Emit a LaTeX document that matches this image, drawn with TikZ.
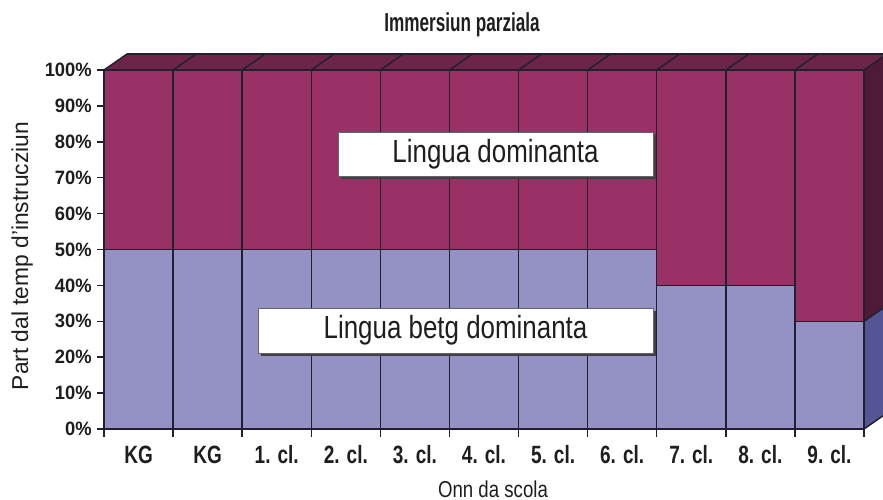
\documentclass[tikz,border=0pt]{standalone}
\usepackage{fontspec}
\setmainfont{Liberation Sans}
\usepackage{graphicx}
\definecolor{marF}{HTML}{9A3166}
\definecolor{marT}{HTML}{6E2448}
\definecolor{marS}{HTML}{4E1A35}
\definecolor{lavF}{HTML}{9492C5}
\definecolor{lavS}{HTML}{535594}
\definecolor{edge}{HTML}{20202E}
\definecolor{txt}{HTML}{1E1E1E}
\tikzset{
  edgeline/.style={draw=edge,line width=1.1pt},
  ticklab/.style={anchor=east,inner sep=0pt,text=txt,font=\fontsize{14.5}{15}\selectfont\bfseries},
  xlab/.style={anchor=base,inner sep=0pt,text=txt,font=\fontsize{18.75}{20}\selectfont\bfseries},
  axtitle/.style={anchor=base,inner sep=0pt,text=txt,font=\fontsize{17.25}{19}\selectfont},
  legbox/.style={draw=edge!70,line width=0.6pt,fill=white,inner sep=0pt,text=txt,font=\fontsize{24}{26}\selectfont},
  legshadow/.style={fill=black!75}
}
\begin{document}
\begin{tikzpicture}[x=0.75pt,y=-0.75pt]
\useasboundingbox (0,0) rectangle (883,500);
\clip (0,0) rectangle (883,500);
% bars
\foreach \i/\v in {0/50,1/50,2/50,3/50,4/50,5/50,6/50,7/50,8/40,9/40,10/30}{
  \pgfmathsetmacro\xl{104+69.09*\i}
  \pgfmathsetmacro\xr{104+69.09*(\i+1)}
  \pgfmathsetmacro\yv{429-3.59*\v}
  \fill[lavF] (\xl,\yv) rectangle (\xr,429);
  \fill[marF] (\xl,70) rectangle (\xr,\yv);
  \draw[edgeline] (\xl,\yv) -- (\xr,\yv);
}
% top face
\fill[marT] (104,70) -- (864,70) -- (887,54) -- (127,54) -- cycle;
% right face
\fill[marS] (864,70) -- (887,54) -- (887,305.3) -- (864,321.3) -- cycle;
\fill[lavS] (864,321.3) -- (887,305.3) -- (887,413) -- (864,429) -- cycle;
\draw[edgeline] (864,321.3) -- (887,305.3);
\draw[edgeline] (127,54) -- (887,54);
% vertical lines and top diagonals
\foreach \i in {0,...,11}{
  \pgfmathsetmacro\xx{104+69.09*\i}
  \draw[edgeline] (\xx,70) -- (\xx,437);
  \draw[edgeline] (\xx,70) -- ({\xx+23},54);
}
\draw[edgeline] (104,70) -- (864,70);
\draw[edgeline] (104,429) -- (864,429);
\draw[edgeline] (864,429) -- (887,413);
% y ticks and labels
\foreach \p in {0,10,...,100}{
  \pgfmathsetmacro\yy{429-3.59*\p}
  \draw[edgeline] (97,\yy) -- (104,\yy);
  \node[ticklab] (y\p) at (92,\yy) {\scalebox{0.95}[1]{\p\%}};
}
% x labels
\foreach \i/\t in {0/KG,1/KG,2/1. cl.,3/2. cl.,4/3. cl.,5/4. cl.,6/5. cl.,7/6. cl.,8/7. cl.,9/8. cl.,10/9. cl.}{
  \pgfmathsetmacro\xc{104+69.09*(\i+0.5)}
  \node[xlab] (x\i) at (\xc,463) {\scalebox{0.76}[1]{\t}};
}
% titles
\node[anchor=base,inner sep=0pt,text=txt,font=\fontsize{19.5}{21}\selectfont\bfseries] (title) at (462,31) {\scalebox{0.66}[1]{Immersiun parziala}};
\node[axtitle] (xt) at (493,497) {\scalebox{0.81}[1]{Onn da scola}};
\node[axtitle,rotate=90] (yt) at (28,256) {\scalebox{0.99}[1]{Part dal temp d’instrucziun}};
% legend boxes
\fill[legshadow] (341,135) rectangle (656,179);
\node[legbox,minimum width=315*0.75pt,minimum height=44*0.75pt] (ld) at (495.5,154) {\scalebox{0.81}[1]{Lingua dominanta}};
\fill[legshadow] (261,311) rectangle (656,356);
\node[legbox,minimum width=395*0.75pt,minimum height=45*0.75pt] (lb) at (455.5,330.5) {\scalebox{0.81}[1]{Lingua betg dominanta}};
\end{tikzpicture}
\end{document}
